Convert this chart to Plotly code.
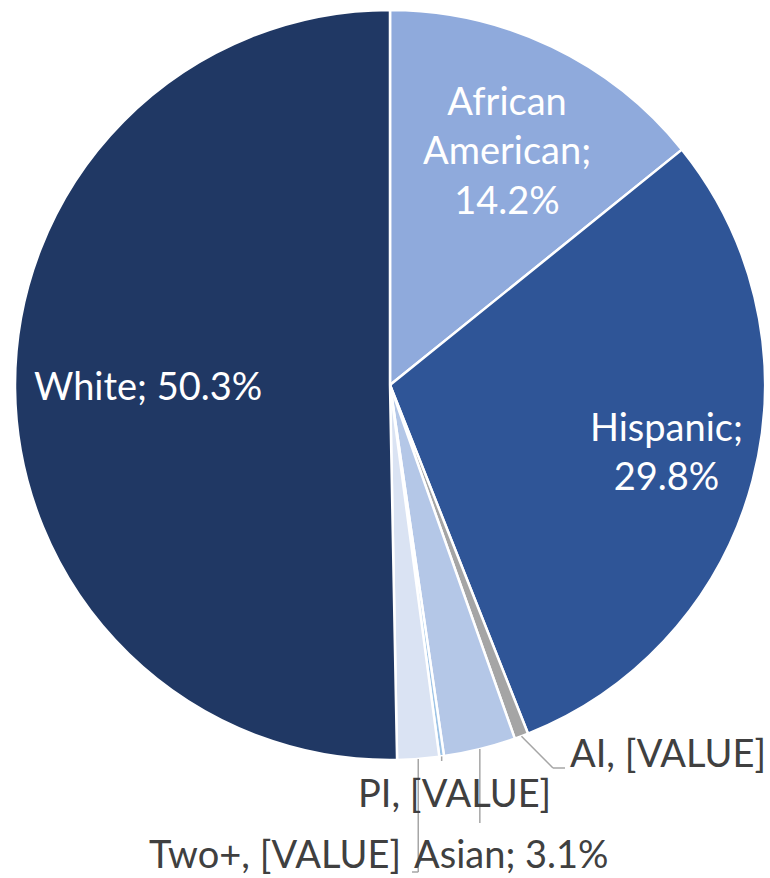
import math
import plotly.graph_objects as go

labels = ["African American", "Hispanic", "AI", "Asian", "PI", "Two+", "White"]
values = [14.2, 29.8, 0.6, 3.1, 0.2, 1.8, 50.3]
colors = ["#8FAADC", "#2F5597", "#A5A5A5", "#B4C7E7", "#9DC3E6", "#DAE3F3", "#203864"]
display_text = ["African<br>American;<br>14.2%", "Hispanic;<br>29.8%", "AI, [VALUE]",
                "Asian; 3.1%", "PI, [VALUE]", "Two+, [VALUE]", "White; 50.3%"]

W, H = 770, 878
ML, MR, MT, MB = 15, 5, 10, 118
PW, PH = W - ML - MR, H - MT - MB
CX, CY, R = ML + PW / 2, MT + PH / 2, min(PW, PH) / 2

def px(x):
    return (x - ML) / PW

def py(y):
    return 1 - (y - MT) / PH

fig = go.Figure(go.Pie(
    labels=labels, values=values, sort=False, direction="clockwise", rotation=0,
    marker=dict(colors=colors, line=dict(color="white", width=2.5)),
    textinfo="none", hoverinfo="label+percent", showlegend=False,
))

# label placement (pixel centres) and style
label_pos = {
    "African American": (507, 150, "white"),
    "Hispanic": (666, 450, "white"),
    "White": (148, 385, "white"),
    "AI": (668, 752, "#404040"),
    "PI": (454, 792, "#404040"),
    "Asian": (512, 853, "#404040"),
    "Two+": (275, 853, "#404040"),
}
FONT = "Lato, Open Sans, sans-serif"
for lab, txt in zip(labels, display_text):
    x, y, c = label_pos[lab]
    fig.add_annotation(x=px(x), y=py(y), xref="paper", yref="paper", text=txt,
                       showarrow=False, font=dict(family=FONT, size=38, color=c),
                       xanchor="center", yanchor="middle", align="center")

# leader lines from slice mid-points
total = sum(values)
cum = 0
mids = {}
for lab, v in zip(labels, values):
    frac = (cum + v / 2) / total
    ang = 2 * math.pi * frac
    mids[lab] = (CX + R * math.sin(ang), CY - R * math.cos(ang))
    cum += v

leaders = {
    "AI": [(553, 768), (565, 768)],
    "Asian": [(None, 823)],
    "PI": [(None, 761)],
    "Two+": [(None, 872), (412, 872)],
}
for lab, pts in leaders.items():
    x0, y0 = mids[lab]
    path = [(x0, y0)]
    for (x, y) in pts:
        path.append((path[-1][0] if x is None else x, y))
    for (a, b) in zip(path[:-1], path[1:]):
        fig.add_shape(type="line", xref="paper", yref="paper",
                      x0=px(a[0]), y0=py(a[1]), x1=px(b[0]), y1=py(b[1]),
                      line=dict(color="#A6A6A6", width=1.5))

fig.update_layout(width=W, height=H, margin=dict(l=ML, r=MR, t=MT, b=MB),
                  paper_bgcolor="white", plot_bgcolor="white")
fig.write_html("out.html", config={"displayModeBar": False},
               post_script="document.body.style.margin='0';document.body.style.overflow='hidden';")
